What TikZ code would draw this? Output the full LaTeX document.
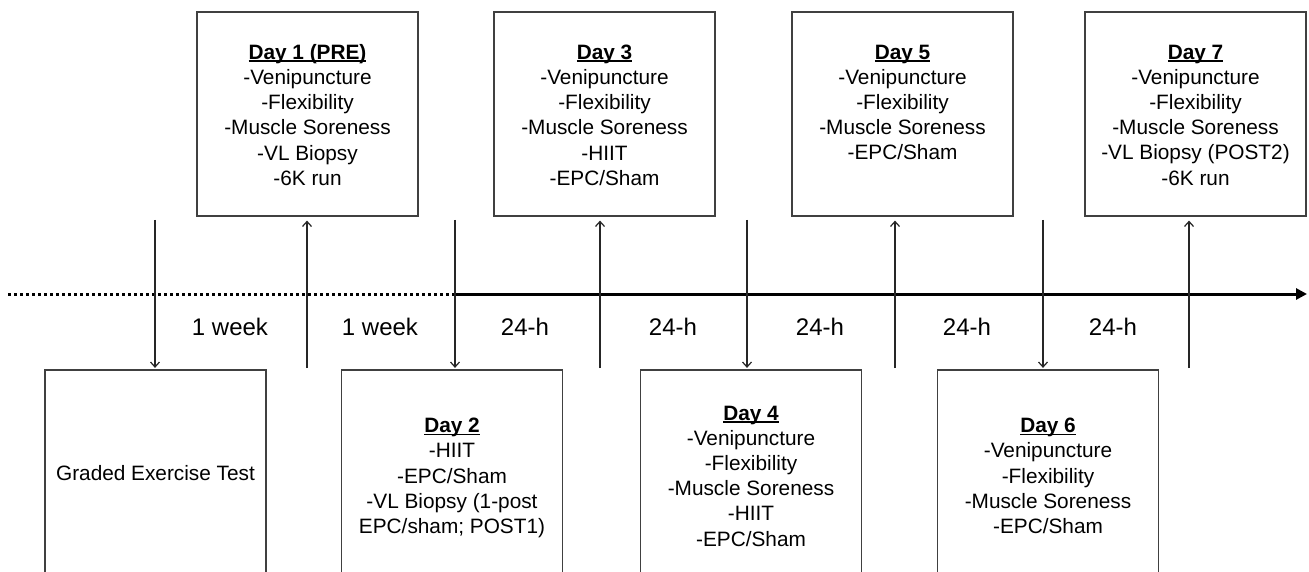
\documentclass[tikz,border=0pt]{standalone}
\usepackage{fontspec}
\setmainfont{Liberation Sans}
\usetikzlibrary{arrows.meta}
\newcommand\dayul[1]{\setbox0\hbox{\bfseries #1}\rlap{\rule[-2.6pt]{\wd0}{1.5pt}}\box0}
\begin{document}
\begin{tikzpicture}[x=1pt,y=-1pt,
  box/.style={draw=black!75, line width=1.2pt, rectangle, minimum width=221pt, inner sep=0pt},
  topbox/.style={box, minimum height=204pt},
  botbox/.style={box, minimum height=240pt},
  boxtext/.style={align=center, inner sep=0pt, font=\fontsize{20.8}{25.2}\selectfont},
  gaplabel/.style={inner sep=0pt, font=\fontsize{24}{28}\selectfont},
  varrow/.style={draw=black!85, line width=1.2pt, -{Straight Barb[length=5pt,width=9pt]}},
]
\clip (0,0) rectangle (1309,572);
\fill[white] (0,0) rectangle (1309,572);

% top boxes
\node[topbox] (d1) at (307.5,114) {};
\node[topbox] (d3) at (604.5,114) {};
\node[topbox] (d5) at (902.5,114) {};
\node[topbox] (d7) at (1195.5,114) {};
% bottom boxes
\node[botbox] (gxt) at (155.5,490) {};
\node[botbox] (d2) at (452,490) {};
\node[botbox] (d4) at (751,490) {};
\node[botbox] (d6) at (1048,490) {};

% texts top
\node[boxtext, anchor=north] (t1) at (307.5,44) {\dayul{Day 1 (PRE)}\\-Venipuncture\\-Flexibility\\-Muscle Soreness\\-VL Biopsy\\-6K run};
\node[boxtext, anchor=north] (t3) at (604.5,44.5) {\dayul{Day 3}\\-Venipuncture\\-Flexibility\\-Muscle Soreness\\-HIIT\\-EPC/Sham};
\node[boxtext, anchor=north] (t5) at (902.5,44.5) {\dayul{Day 5}\\-Venipuncture\\-Flexibility\\-Muscle Soreness\\-EPC/Sham};
\node[boxtext, anchor=north] (t7) at (1195.5,44.5) {\dayul{Day 7}\\-Venipuncture\\-Flexibility\\-Muscle Soreness\\-VL Biopsy (POST2)\\-6K run};
% texts bottom
\node[boxtext] (tg) at (155.5,473) {Graded Exercise Test};
\node[boxtext] (t2) at (452,478) {\dayul{Day 2}\\-HIIT\\-EPC/Sham\\-VL Biopsy (1-post\\EPC/sham; POST1)};
\node[boxtext] (t4) at (751,476) {\dayul{Day 4}\\-Venipuncture\\-Flexibility\\-Muscle Soreness\\-HIIT\\-EPC/Sham};
\node[boxtext] (t6) at (1048,476) {\dayul{Day 6}\\-Venipuncture\\-Flexibility\\-Muscle Soreness\\-EPC/Sham};

% timeline
\coordinate (tl0) at (8,294);
\coordinate (tl1) at (455,294);
\coordinate (tl2) at (1307,294);
\draw[line width=3pt, dash pattern=on 3pt off 3pt] (tl0) -- (tl1);
\draw[line width=3pt, -{Triangle[length=11pt,width=11pt]}] (tl1) -- (tl2);

% vertical arrows
\coordinate (s1) at (155,220);
\coordinate (s2) at (307,368);
\coordinate (s3) at (455,220);
\coordinate (s4) at (600,368);
\coordinate (s5) at (747,220);
\coordinate (s6) at (895,368);
\coordinate (s7) at (1043,220);
\coordinate (s8) at (1189,368);
\draw[varrow, shorten >=1.5pt] (s1) -- (s1 |- gxt.north);
\draw[varrow, shorten >=4pt] (s2) -- (s2 |- d1.south);
\draw[varrow, shorten >=1.5pt] (s3) -- (s3 |- d2.north);
\draw[varrow, shorten >=4pt] (s4) -- (s4 |- d3.south);
\draw[varrow, shorten >=1.5pt] (s5) -- (s5 |- d4.north);
\draw[varrow, shorten >=4pt] (s6) -- (s6 |- d5.south);
\draw[varrow, shorten >=1.5pt] (s7) -- (s7 |- d6.north);
\draw[varrow, shorten >=4pt] (s8) -- (s8 |- d7.south);

% gap labels
\node[gaplabel] (g1) at (230,327) {1 week};
\node[gaplabel] (g2) at (380,327) {1 week};
\node[gaplabel] (g3) at (525,327) {24-h};
\node[gaplabel] (g4) at (673,327) {24-h};
\node[gaplabel] (g5) at (820,327) {24-h};
\node[gaplabel] (g6) at (967,327) {24-h};
\node[gaplabel] (g7) at (1113,327) {24-h};
\end{tikzpicture}
\end{document}
